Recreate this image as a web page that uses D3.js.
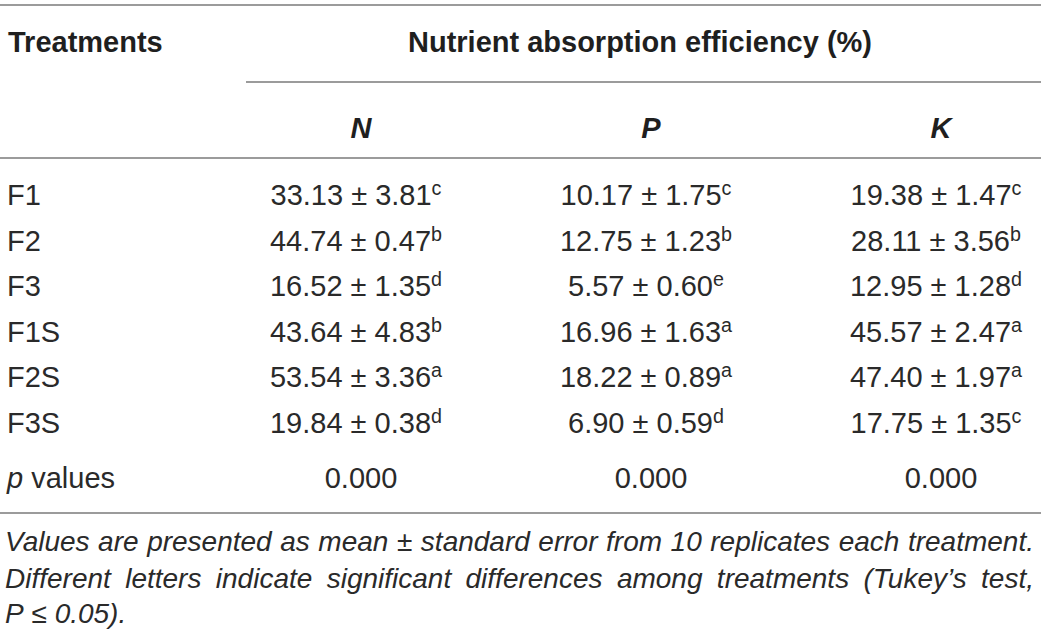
<!DOCTYPE html>
<html>
<head>
<meta charset="utf-8">
<script src="https://cdn.jsdelivr.net/npm/d3@7/dist/d3.min.js"></script>
<style>
  html, body { margin: 0; padding: 0; background: #fff; }
  svg { display: block; }
  text { font-family: "Liberation Sans", Arial, Helvetica, sans-serif; fill: #2a2a2a; }
</style>
</head>
<body>
<svg id="chart" width="1041" height="637"></svg>
<script>
// ---- data ----
const treatments = ["F1", "F2", "F3", "F1S", "F2S", "F3S"];
const nutrients = ["N", "P", "K"];
const meanN = ["33.13", "44.74", "16.52", "43.64", "53.54", "19.84"];
const seN   = ["3.81", "0.47", "1.35", "4.83", "3.36", "0.38"];
const letN  = ["c", "b", "d", "b", "a", "d"];
const meanP = ["10.17", "12.75", "5.57", "16.96", "18.22", "6.90"];
const seP   = ["1.75", "1.23", "0.60", "1.63", "0.89", "0.59"];
const letP  = ["c", "b", "e", "a", "a", "d"];
const meanK = ["19.38", "28.11", "12.95", "45.57", "47.40", "17.75"];
const seK   = ["1.47", "3.56", "1.28", "2.47", "1.97", "1.35"];
const letK  = ["c", "b", "d", "a", "a", "c"];
const pValues = ["0.000", "0.000", "0.000"];
const headerLeft = "Treatments";
const headerGroup = "Nutrient absorption efficiency (%)";
const footLines = [
  "Values are presented as mean \u00b1 standard error from 10 replicates each treatment.",
  "Different letters indicate significant differences among treatments (Tukey\u2019s test,",
  "P \u2264 0.05)."
];

// ---- layout ----
const W = 1041;
const svg = d3.select("#chart");
const FS = 29;
const FS_FOOT = 28;
const lineColor = "#7a7a7a";

const x = d3.scalePoint().domain(nutrients).range([361, 941]);
const y = d3.scalePoint().domain(treatments).range([195, 423]);

const cols = {
  N: { m: meanN, s: seN, l: letN },
  P: { m: meanP, s: seP, l: letP },
  K: { m: meanK, s: seK, l: letK }
};

// rules
const rules = [
  { x1: 0, x2: W, y: 5 },
  { x1: 246, x2: W, y: 82 },
  { x1: 0, x2: W, y: 158 },
  { x1: 0, x2: W, y: 513 }
];
svg.selectAll("line.rule").data(rules).join("line")
  .attr("class", "rule")
  .attr("x1", d => d.x1).attr("x2", d => d.x2)
  .attr("y1", d => d.y).attr("y2", d => d.y)
  .attr("stroke", lineColor).attr("stroke-width", 1.6);

// header
svg.append("text").attr("x", 8).attr("y", 52)
  .attr("font-size", FS).attr("font-weight", "bold").style("fill", "#1f1f1f").text(headerLeft);
svg.append("text").attr("x", 640).attr("y", 52).attr("text-anchor", "middle")
  .attr("font-size", FS).attr("font-weight", "bold").style("fill", "#1f1f1f").text(headerGroup);
svg.selectAll("text.colhead").data(nutrients).join("text")
  .attr("class", "colhead")
  .attr("x", d => x(d)).attr("y", 138)
  .attr("text-anchor", "middle")
  .attr("font-size", FS).attr("font-weight", "bold").attr("font-style", "italic")
  .style("fill", "#1f1f1f")
  .text(d => d);

// row labels
svg.selectAll("text.rowlab").data(treatments).join("text")
  .attr("class", "rowlab")
  .attr("x", 7).attr("y", d => y(d) + 10)
  .attr("font-size", FS)
  .text(d => d);

// cells
nutrients.forEach(n => {
  const c = cols[n];
  const g = svg.append("g");
  const t = g.selectAll("text").data(treatments).join("text")
    .attr("x", x(n) - 5).attr("y", d => y(d) + 10)
    .attr("text-anchor", "middle")
    .attr("font-size", FS);
  t.append("tspan").text((d, i) => c.m[i] + " \u00b1 " + c.s[i]);
  t.append("tspan").attr("font-size", FS * 0.68).attr("dy", -10)
    .text((d, i) => c.l[i]);
});

// p values row
const pRow = 488;
const pl = svg.append("text").attr("x", 7).attr("y", pRow).attr("font-size", FS);
pl.append("tspan").attr("font-style", "italic").text("p");
pl.append("tspan").text(" values");
svg.selectAll("text.pval").data(nutrients).join("text")
  .attr("class", "pval")
  .attr("x", d => x(d)).attr("y", pRow)
  .attr("text-anchor", "middle").attr("font-size", FS)
  .text((d, i) => pValues[i]);

// footnote (justified lines)
const footY = [551, 588, 623];
const left = 5, right = 1034;
footLines.forEach((line, li) => {
  const words = line.split(" ");
  const g = svg.append("g");
  const ws = words.map(w => g.append("text")
    .attr("font-size", FS_FOOT).attr("font-style", "italic")
    .attr("y", footY[li]).text(w));
  const lens = ws.map(t => t.node().getComputedTextLength());
  const total = d3.sum(lens);
  const justify = li < footLines.length - 1;
  const gap = justify ? (right - left - total) / (words.length - 1) : FS_FOOT * 0.278;
  let cx = left;
  ws.forEach((t, i) => { t.attr("x", cx); cx += lens[i] + gap; });
});
</script>
</body>
</html>
